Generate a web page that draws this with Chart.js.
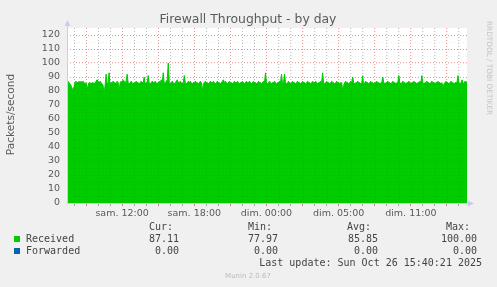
<!DOCTYPE html>
<html>
<head>
<meta charset="utf-8">
<script src="https://cdn.jsdelivr.net/npm/chart.js@4.4.1/dist/chart.umd.min.js"></script>
<style>
html,body{margin:0;padding:0;background:#F0F0F0;}
canvas{display:block;}
</style>
</head>
<body>
<canvas id="c" width="497" height="287"></canvas>
<script>
// ---- data ----
const chartTitle = 'Firewall Throughput - by day';
const yAxisTitle = 'Packets/second';
const startHour = 7.4167;           // hours since Sat 00:00 (first sample)
const sampleMinutes = 5;
const received = [
86,87,86,85,84,82,81,83,86,87,86,86,87,86,87,86,87,86,85,86,
81,84,86,86,85,86,86,85,86,87,88,87,86,87,86,85,84,78,84,92,
85,86,93,84,86,86,87,86,86,85,87,86,80,86,87,86,88,87,86,87,
92,86,85,86,87,86,85,86,86,87,86,86,85,86,87,86,86,90,85,86,
86,91,86,85,86,87,86,86,87,86,85,86,87,86,88,86,93,85,86,87,
88,100,86,85,86,87,86,85,86,87,88,86,86,87,86,85,86,91,86,85,
86,87,86,87,86,85,86,86,87,86,86,85,86,87,86,80,85,86,87,86,
86,85,86,87,86,86,87,86,85,86,87,86,86,85,86,87,88,86,87,86,
85,86,87,86,86,85,86,87,86,86,87,86,85,86,86,87,86,85,86,87,
86,86,87,86,85,86,87,86,86,85,86,87,86,86,85,86,87,86,93,86,
85,86,87,86,85,86,86,87,86,85,86,86,87,86,92,85,86,92,86,85,
86,87,86,85,86,87,86,86,85,86,87,86,86,85,86,87,86,86,85,86,
87,86,86,85,86,87,86,86,87,86,85,86,86,87,86,93,86,85,86,87,
86,86,85,86,87,86,86,85,86,87,86,86,85,86,86,80,84,86,87,86,
86,85,86,87,86,90,86,85,86,86,87,86,86,85,86,91,82,86,87,86,
86,85,86,87,86,86,85,86,86,87,86,86,85,86,86,90,86,85,86,86,
87,86,86,85,86,87,86,86,85,86,86,91,86,85,86,87,86,86,85,86,
86,87,86,85,86,86,87,86,86,85,86,86,87,86,91,86,85,86,86,87,
86,86,85,86,87,86,86,85,86,86,87,86,86,85,86,82,85,86,87,86,
86,85,86,87,86,86,85,86,86,86,91,86,85,86,88,86,85,87,86,87
];
const forwarded = received.map(() => 0);
const tickHours = [12, 18, 24, 30, 36];
const tickLabels = ['sam. 12:00', 'sam. 18:00', 'dim. 00:00', 'dim. 05:00', 'dim. 11:00'];
const yMax = 125;
const seriesNames = ['Received', 'Forwarded'];
const seriesColors = ['#00CC00', '#0066B3'];
const statHeaders = ['Cur:', 'Min:', 'Avg:', 'Max:'];
const receivedStats = ['87.11', '77.97', '85.85', '100.00'];
const forwardedStats = ['0.00', '0.00', '0.00', '0.00'];
const lastUpdate = 'Last update: Sun Oct 26 15:40:21 2025';
const muninVersion = 'Munin 2.0.67';
const sideText = 'RRDTOOL / TOBI OETIKER';

// ---- build ----
const endHour = startHour + received.length * sampleMinutes / 60;
const toPts = arr => arr.map((v, i) => ({x: startHour + i * sampleMinutes / 60, y: v}));
const hourTicks = [];
for (let h = Math.ceil(startHour); h <= endHour; h++) hourTicks.push(h);

const majorRed = 'rgba(225,90,90,0.55)';
const minorGrey = 'rgba(0,0,0,0.22)';

const decor = {
  id: 'decor',
  beforeDraw(chart) {
    const c = chart.ctx, a = chart.chartArea;
    c.save();
    c.fillStyle = '#F0F0F0';
    c.fillRect(0, 0, chart.width, chart.height);
    c.fillStyle = '#FFFFFF';
    c.fillRect(a.left, a.top, a.right - a.left, a.bottom - a.top);
    c.restore();
  },
  afterDatasetsDraw(chart) {
    // faint grid showing through the area, as in the rrdtool image
    const c = chart.ctx, a = chart.chartArea;
    const xs = chart.scales.x, ys = chart.scales.y;
    c.save();
    c.lineWidth = 1;
    c.setLineDash([1, 2]);
    c.strokeStyle = 'rgba(0,0,0,0.07)';
    c.beginPath();
    hourTicks.forEach(h => { const px = Math.round(xs.getPixelForValue(h)) + 0.5; c.moveTo(px, a.top); c.lineTo(px, a.bottom); });
    for (let v = 5; v < yMax; v += 5) { const py = Math.round(ys.getPixelForValue(v)) + 0.5; c.moveTo(a.left, py); c.lineTo(a.right, py); }
    c.stroke();
    c.restore();
  },
  afterDraw(chart) {
    const c = chart.ctx, a = chart.chartArea;
    c.save();
    // axes lines + arrows
    c.strokeStyle = '#C8CCF4';
    c.fillStyle = '#C8CCF4';
    c.lineWidth = 1;
    c.beginPath();
    c.moveTo(a.left + 0.5, a.bottom);
    c.lineTo(a.left + 0.5, a.top - 4);
    c.moveTo(a.left, a.bottom + 0.5);
    c.lineTo(a.right + 3, a.bottom + 0.5);
    c.stroke();
    c.beginPath();
    c.moveTo(a.left + 0.5, a.top - 8);
    c.lineTo(a.left - 2.5, a.top - 2);
    c.lineTo(a.left + 3.5, a.top - 2);
    c.closePath(); c.fill();
    c.beginPath();
    c.moveTo(a.right + 7, a.bottom + 0.5);
    c.lineTo(a.right + 1, a.bottom - 2.5);
    c.lineTo(a.right + 1, a.bottom + 3.5);
    c.closePath(); c.fill();

    // title
    c.fillStyle = '#5A5A5A';
    c.font = '12.4px "DejaVu Sans"';
    c.textAlign = 'center';
    c.textBaseline = 'middle';
    c.fillText(chartTitle, 248, 19.5);

    // y axis title
    c.save();
    c.translate(11, 114.5);
    c.rotate(-Math.PI / 2);
    c.font = '10.6px "DejaVu Sans"';
    c.fillStyle = '#5A5A5A';
    c.fillText(yAxisTitle, 0, 0);
    c.restore();

    // side text
    c.save();
    c.translate(489, 68);
    c.rotate(Math.PI / 2);
    c.font = '7.3px "DejaVu Sans"';
    c.fillStyle = '#C4C4C4';
    c.fillText(sideText, 0, 0);
    c.restore();

    // legend
    c.font = '10px "DejaVu Sans Mono"';
    c.fillStyle = '#444444';
    c.textAlign = 'right';
    const hdrX = [173, 272, 371, 470];
    const valX = [179, 278, 378, 477];
    statHeaders.forEach((t, i) => c.fillText(t, hdrX[i], 227.5));
    receivedStats.forEach((t, i) => c.fillText(t, valX[i], 239.5));
    forwardedStats.forEach((t, i) => c.fillText(t, valX[i], 251.5));
    c.textAlign = 'left';
    c.fillText(seriesNames[0], 26, 239.5);
    c.fillText(seriesNames[1], 26, 251.5);
    c.fillStyle = seriesColors[0];
    c.fillRect(14, 236, 6, 6);
    c.fillStyle = seriesColors[1];
    c.fillRect(14, 248, 6, 6);
    c.fillStyle = '#444444';
    c.textAlign = 'right';
    c.fillText(lastUpdate, 482, 263.5);

    c.textAlign = 'center';
    c.font = '7px "DejaVu Sans"';
    c.fillStyle = '#BBBBBB';
    c.fillText(muninVersion, 248, 276.5);
    c.restore();
  }
};

new Chart(document.getElementById('c'), {
  type: 'line',
  data: {
    datasets: [
      {label: seriesNames[1], data: toPts(forwarded), borderColor: seriesColors[1], borderWidth: 0,
       pointRadius: 0, fill: false, order: 2},
      {label: seriesNames[0], data: toPts(received), borderColor: seriesColors[0], backgroundColor: seriesColors[0],
       borderWidth: 1, pointRadius: 0, fill: 'origin', tension: 0, order: 1}
    ]
  },
  options: {
    responsive: false,
    animation: false,
    events: [],
    layout: {padding: {left: 0, right: 30, top: 28, bottom: 0}},
    plugins: {legend: {display: false}, title: {display: false}, tooltip: {enabled: false}},
    scales: {
      x: {
        type: 'linear',
        min: startHour,
        max: endHour - sampleMinutes / 60,
        afterBuildTicks(s) { s.ticks = hourTicks.map(v => ({value: v})); },
        afterFit(s) { s.height = 84; },
        border: {display: false, dash: [1, 2]},
        grid: {
          drawTicks: true,
          tickLength: 3,
          borderDash: [1, 2],
          color: ctx => (ctx.tick && ctx.tick.value % 3 === 0) ? majorRed : minorGrey,
          tickColor: ctx => (ctx.tick && ctx.tick.value % 3 === 0) ? 'rgba(225,90,90,0.8)' : 'rgba(0,0,0,0.3)',
          tickBorderDash: []
        },
        ticks: {
          autoSkip: false,
          maxRotation: 0,
          padding: 2,
          color: '#5A5A5A',
          font: {family: 'DejaVu Sans', size: 9.5},
          callback: v => { const k = tickHours.indexOf(v); return k >= 0 ? tickLabels[k] : ''; }
        }
      },
      y: {
        min: 0,
        max: yMax,
        afterFit(s) { s.width = 67; },
        border: {display: false, dash: [1, 2]},
        grid: {
          drawTicks: false,
          borderDash: [1, 2],
          color: ctx => (ctx.tick && ctx.tick.value === 0) ? 'rgba(0,0,0,0)' :
            (ctx.tick && ctx.tick.value % 10 === 0 ? majorRed : minorGrey)
        },
        ticks: {
          stepSize: 5,
          padding: 7,
          color: '#5A5A5A',
          font: {family: 'DejaVu Sans', size: 9.5},
          callback: v => (v % 10 === 0 ? String(v) : '')
        }
      }
    }
  },
  plugins: [decor]
});
</script>
</body>
</html>
